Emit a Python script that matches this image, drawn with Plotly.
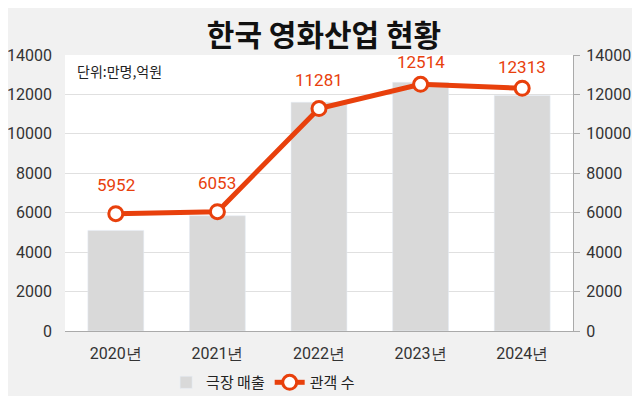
import plotly.graph_objects as go

years = ["2020년", "2021년", "2022년", "2023년", "2024년"]
revenue = [5104, 5845, 11602, 12614, 11945]
audience = [5952, 6053, 11281, 12514, 12313]
tick_vals = [0, 2000, 4000, 6000, 8000, 10000, 12000, 14000]
tick_text = [str(v) for v in tick_vals]

FONT = "Noto Sans CJK KR"
NUMFONT = "Roboto"
RED = "#e8400c"
label_shift = [29, 29, 29, 22, 21]

fig = go.Figure()
fig.add_trace(go.Bar(x=years, y=revenue, name="극장 매출", marker_color="#d9d9d9",
                     width=0.55, yaxis="y"))
fig.add_trace(go.Scatter(x=years, y=audience, name="관객 수", mode="lines+markers",
                         line=dict(color=RED, width=5),
                         marker=dict(size=14, color="white", line=dict(color=RED, width=3)),
                         yaxis="y2"))
for x, v, s in zip(years, audience, label_shift):
    fig.add_annotation(x=x, y=v, yref="y2", text=str(v), showarrow=False, yshift=s,
                       font=dict(color=RED, size=17, family=NUMFONT))

fig.add_annotation(x=0.02, y=0.985, xref="paper", yref="paper", xanchor="left", yanchor="top",
                   text="단위:만명,억원", showarrow=False, font=dict(size=14, color="#222", family=FONT))

# page body has an 8px default margin; size the figure to end at 640x396
fig.update_layout(
    width=632, height=388,
    paper_bgcolor="#f1f1f1", plot_bgcolor="white",
    margin=dict(l=57, r=67, t=47, b=65, autoexpand=False),
    font=dict(family=NUMFONT, color="#333", size=15),
    title=dict(text="<b>한국 영화산업 현황</b>", x=0.5, xanchor="center", y=0.928, yanchor="middle",
               font=dict(size=30, color="#111", family=FONT)),
    showlegend=True,
    legend=dict(orientation="h", x=0.39, xanchor="center", y=-0.127, yanchor="top",
                font=dict(size=15, color="#222", family=FONT), bgcolor="rgba(0,0,0,0)"),
    xaxis=dict(showline=True, linecolor="#aaa", linewidth=1, ticks="", showgrid=False,
               tickfont=dict(size=16, color="#333", family=NUMFONT), ticklabelstandoff=8,
               automargin=False),
    yaxis=dict(range=[0, 14000], tickvals=tick_vals, ticktext=tick_text, showgrid=True,
               gridcolor="#e0e0e0", zeroline=False, ticks="", automargin=False,
               tickfont=dict(size=16, color="#333", family=NUMFONT), ticklabelstandoff=12),
    yaxis2=dict(range=[0, 14000], tickvals=tick_vals, ticktext=tick_text, overlaying="y",
                side="right", showgrid=False, zeroline=False, showline=True, linecolor="#aaa",
                linewidth=1, ticks="outside", ticklen=6, tickcolor="#aaa", automargin=False,
                tickfont=dict(size=16, color="#333", family=NUMFONT), ticklabelstandoff=3),
)

fig.write_html("out.html")
